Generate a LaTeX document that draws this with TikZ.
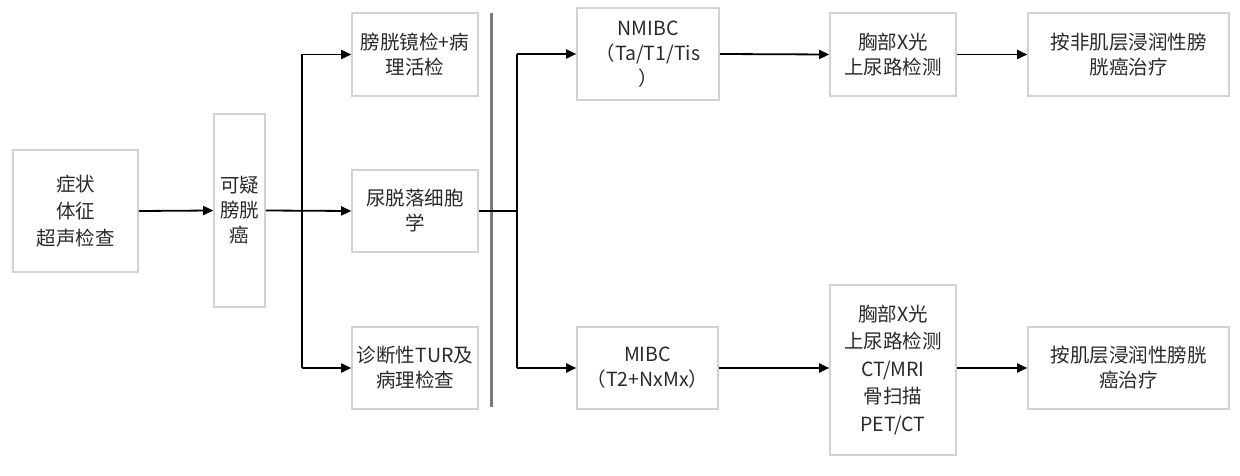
\documentclass[tikz,border=0pt]{standalone}
\usepackage{fontspec}
\setmainfont{Noto Sans CJK SC}
\usetikzlibrary{arrows.meta}
\definecolor{boxline}{HTML}{D2D2D2}
\definecolor{txt}{HTML}{2A2A2A}
\definecolor{bar}{HTML}{7A7A7A}
\begin{document}
\begin{tikzpicture}[x=1pt,y=-1pt,
  box/.style={draw=boxline,line width=1.6pt,fill=white,align=center,text=txt,
    font=\fontsize{19.5pt}{25pt}\selectfont,inner sep=1pt},
  conn/.style={line width=1.8pt,black},
  arr/.style={conn,-{Triangle[length=10pt,width=9pt]}}]
\useasboundingbox[fill=white] (0,0) rectangle (1240,476);
% nodes
\node[box,minimum width=125pt,minimum height=122pt,font=\fontsize{19.5pt}{27pt}\selectfont] (A) at (75.5,211) {症状\\体征\\超声检查};
\node[box,minimum width=51pt,minimum height=193pt] (B) at (239.5,210.5) {可疑\\膀胱\\癌};
\node[box,minimum width=126pt,minimum height=83pt] (C1) at (415,54.5) {膀胱镜检+病\\理活检};
\node[box,minimum width=126pt,minimum height=82pt] (C2) at (415,211) {尿脱落细胞\\学};
\node[box,minimum width=126pt,minimum height=82pt] (C3) at (415,368) {诊断性TUR及\\病理检查};
\node[box,minimum width=142pt,minimum height=92pt] (N1) at (648,54) {NMIBC\\（Ta/T1/Tis\\）};
\node[box,minimum width=141pt,minimum height=82pt] (M1) at (647.5,368) {MIBC\\（T2+NxMx）};
\node[box,minimum width=126pt,minimum height=83pt] (X1) at (893,54.5) {胸部X光\\上尿路检测};
\node[box,minimum width=126pt,minimum height=170pt,font=\fontsize{19.5pt}{27.5pt}\selectfont] (X2) at (893,370) {胸部X光\\上尿路检测\\CT/MRI\\骨扫描\\PET/CT};
\node[box,minimum width=201pt,minimum height=83pt] (T1) at (1128.5,54.5) {按非肌层浸润性膀\\胱癌治疗};
\node[box,minimum width=201pt,minimum height=82pt] (T2) at (1128.5,368) {按肌层浸润性膀胱\\癌治疗};
% gray bar
\coordinate (g1) at (491,13);
\coordinate (g2) at (491,407);
\draw[bar,line width=3pt] (g1) -- (g2);
% junctions
\coordinate (j1) at (302,211);
\coordinate (j2) at (517,211);
% connectors
\draw[arr] (A.east) -- (B.west);
\draw[arr] (B.east) -- (C2.west);
\draw[conn] (j1 |- C1.west) -- (j1 |- C3.west);
\draw[arr] (j1 |- C1.west) -- (C1.west);
\draw[arr] (j1 |- C3.west) -- (C3.west);
\draw[conn] (C2.east) -- (j2);
\draw[conn] (j2 |- N1.west) -- (j2 |- M1.west);
\draw[arr] (j2 |- N1.west) -- (N1.west);
\draw[arr] (j2 |- M1.west) -- (M1.west);
\draw[arr] (N1.east) -- (X1.west);
\draw[arr] (M1.east) -- (X2.west |- M1.east);
\draw[arr] (X1.east) -- (T1.west);
\draw[arr] (X2.east |- T2.west) -- (T2.west);
\end{tikzpicture}
\end{document}
